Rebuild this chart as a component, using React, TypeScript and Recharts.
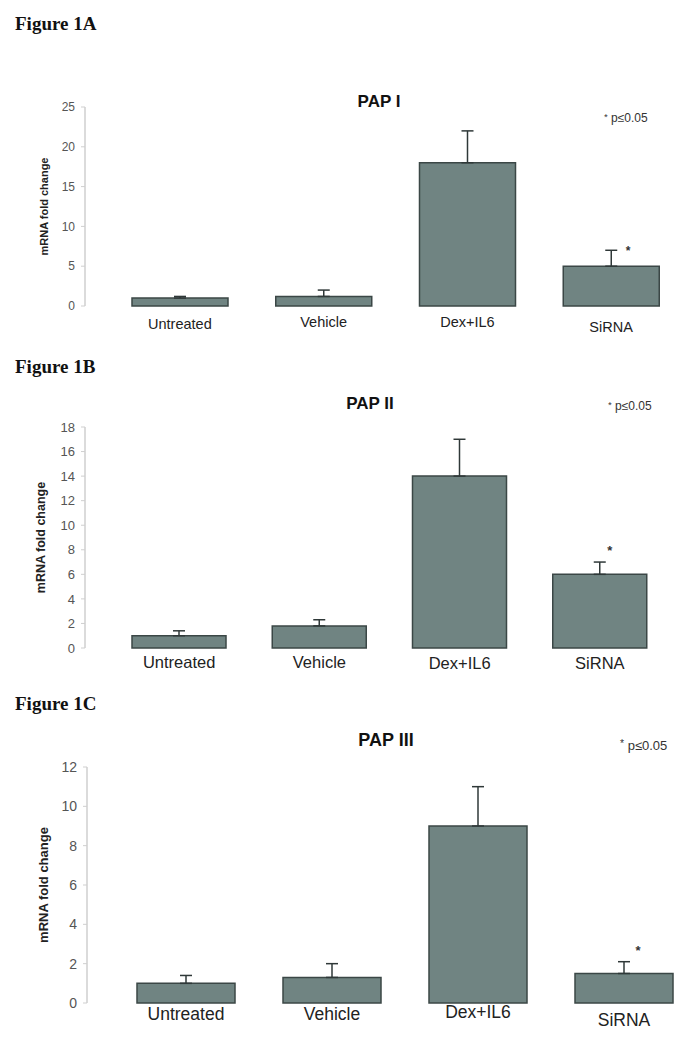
import React from "react";
import {
  ComposedChart,
  Bar,
  Scatter,
  ErrorBar,
  XAxis,
  YAxis,
} from "recharts";

const categories = ["Untreated", "Vehicle", "Dex+IL6", "SiRNA"];

// PAP I
const papIValues = [1, 1.2, 18, 5];
const papIErrors = [0.2, 0.8, 4, 2];
const papIStars = [null, null, null, 7.3];
const papITicks = [0, 5, 10, 15, 20, 25];

// PAP II
const papIIValues = [1, 1.8, 14, 6];
const papIIErrors = [0.4, 0.5, 3, 1];
const papIIStars = [null, null, null, 8.2];
const papIITicks = [0, 2, 4, 6, 8, 10, 12, 14, 16, 18];

// PAP III
const papIIIValues = [1, 1.3, 9, 1.5];
const papIIIErrors = [0.4, 0.7, 2, 0.6];
const papIIIStars = [null, null, null, 2.85];
const papIIITicks = [0, 2, 4, 6, 8, 10, 12];

const SANS = "'Liberation Sans', Arial, sans-serif";
const SERIF = "'Liberation Serif', 'Times New Roman', serif";
const BAR_FILL = "#708482";
const BAR_STROKE = "#3b4746";

const buildRows = (values: number[], errors: number[], stars: (number | null)[]) =>
  categories.map((name, i) => ({
    name,
    value: values[i],
    err: [0, errors[i]],
    star: stars[i],
  }));

interface PanelProps {
  rows: any[];
  top: number;
  width: number;
  height: number;
  margin: { top: number; right: number; bottom: number; left: number };
  padLeft: number;
  barSize: number;
  domain: [number, number];
  ticks: number[];
  tickFont: number;
  catFont: number;
  catMargin: number;
  catShift: number[];
  xAxisHeight: number;
  labelFont: number;
  labelX: number;
  starDx: number;
  starFont: number;
}

const Panel: React.FC<PanelProps> = (p) => {
  const renderTick = (t: any) => (
    <text
      x={t.x}
      y={t.y + (p.catShift[t.index] ?? 0)}
      dy="0.71em"
      textAnchor="middle"
      fontSize={p.catFont}
      fontFamily={SANS}
      fill="#222"
    >
      {t.payload.value}
    </text>
  );

  const renderYLabel = (l: any) => {
    const vb = l.viewBox || {};
    const cy = vb.y + vb.height / 2;
    return (
      <text
        x={p.labelX}
        y={cy}
        transform={`rotate(-90 ${p.labelX} ${cy})`}
        textAnchor="middle"
        dominantBaseline="central"
        fontSize={p.labelFont}
        fontWeight={700}
        fontFamily={SANS}
        fill="#222"
      >
        mRNA fold change
      </text>
    );
  };

  const renderStar = (s: any) => {
    if (s.payload?.star == null || s.cx == null) return <g />;
    return (
      <text
        x={s.cx + p.starDx}
        y={s.cy + p.starFont * 0.62}
        textAnchor="middle"
        fontSize={p.starFont}
        fontWeight={700}
        fontFamily={SANS}
        fill="#333"
      >
        *
      </text>
    );
  };

  return (
    <div style={{ position: "absolute", left: 0, top: p.top }}>
      <ComposedChart width={p.width} height={p.height} data={p.rows} margin={p.margin}>
        <XAxis
          dataKey="name"
          axisLine={false}
          tickLine={false}
          tickMargin={p.catMargin}
          height={p.xAxisHeight}
          padding={{ left: p.padLeft, right: 0 }}
          tick={renderTick}
          interval={0}
        />
        <YAxis
          type="number"
          domain={p.domain}
          ticks={p.ticks}
          width={40}
          axisLine={{ stroke: "#cfcfcf", strokeWidth: 1.5 }}
          tickLine={{ stroke: "#cfcfcf" }}
          tickSize={4}
          tickMargin={6}
          tick={{ fontSize: p.tickFont, fill: "#555", fontFamily: SANS }}
          label={{ content: renderYLabel }}
        />
        <Bar
          dataKey="value"
          fill={BAR_FILL}
          stroke={BAR_STROKE}
          strokeWidth={1.5}
          barSize={p.barSize}
          isAnimationActive={false}
        >
          <ErrorBar
            dataKey="err"
            direction="y"
            width={6}
            stroke="#2f3838"
            strokeWidth={1.5}
            isAnimationActive={false}
          />
        </Bar>
        <Scatter dataKey="star" shape={renderStar} isAnimationActive={false} />
      </ComposedChart>
    </div>
  );
};

const figLabel = (text: string, top: number) => (
  <div
    style={{
      position: "absolute",
      left: 15,
      top,
      fontFamily: SERIF,
      fontWeight: 700,
      fontSize: 19,
      color: "#111",
      whiteSpace: "nowrap",
    }}
  >
    {text}
  </div>
);

const chartTitle = (text: string, cx: number, top: number, size: number) => (
  <div
    style={{
      position: "absolute",
      left: cx,
      top,
      transform: "translateX(-50%)",
      fontFamily: SANS,
      fontWeight: 700,
      fontSize: size,
      color: "#111",
      whiteSpace: "nowrap",
    }}
  >
    {text}
  </div>
);

const pNote = (left: number, top: number, size: number) => (
  <div
    style={{
      position: "absolute",
      left,
      top,
      fontFamily: SANS,
      fontSize: size,
      color: "#333",
      whiteSpace: "nowrap",
    }}
  >
    <span style={{ fontSize: size * 0.8, verticalAlign: "top" }}>*</span> p≤0.05
  </div>
);

export default function App() {
  const rowsA = buildRows(papIValues, papIErrors, papIStars);
  const rowsB = buildRows(papIIValues, papIIErrors, papIIStars);
  const rowsC = buildRows(papIIIValues, papIIIErrors, papIIIStars);

  return (
    <div
      style={{
        position: "absolute",
        left: 0,
        top: 0,
        width: 694,
        height: 1050,
        overflow: "hidden",
        background: "#fff",
      }}
    >
      {figLabel("Figure 1A", 13)}
      {chartTitle("PAP I", 379, 92, 17)}
      {pNote(604, 111, 12)}
      <Panel
        rows={rowsA}
        top={90}
        width={694}
        height={250}
        margin={{ top: 17, right: 11, bottom: 4, left: 45 }}
        padLeft={23}
        barSize={96}
        domain={[0, 25]}
        ticks={papITicks}
        tickFont={12}
        catFont={14.5}
        catMargin={7}
        catShift={[0, -2, -2, 3]}
        xAxisHeight={30}
        labelFont={11}
        labelX={44}
        starDx={17}
        starFont={12}
      />

      {figLabel("Figure 1B", 356)}
      {chartTitle("PAP II", 370, 394, 17)}
      {pNote(608, 399, 12)}
      <Panel
        rows={rowsB}
        top={400}
        width={694}
        height={290}
        margin={{ top: 27, right: 24, bottom: 6, left: 45 }}
        padLeft={24}
        barSize={94}
        domain={[0, 18]}
        ticks={papIITicks}
        tickFont={13}
        catFont={16.5}
        catMargin={2}
        catShift={[0, 0, 1, 1]}
        xAxisHeight={36}
        labelFont={12.5}
        labelX={41}
        starDx={10}
        starFont={13}
      />

      {figLabel("Figure 1C", 693)}
      {chartTitle("PAP III", 386, 730, 18)}
      {pNote(620, 738, 13)}
      <Panel
        rows={rowsC}
        top={750}
        width={700}
        height={300}
        margin={{ top: 17, right: 3, bottom: 7, left: 47 }}
        padLeft={26}
        barSize={98}
        domain={[0, 12]}
        ticks={papIIITicks}
        tickFont={14}
        catFont={17.5}
        catMargin={-1}
        catShift={[0, 0, -2, 6]}
        xAxisHeight={40}
        labelFont={13}
        labelX={43}
        starDx={14}
        starFont={13}
      />
    </div>
  );
}
